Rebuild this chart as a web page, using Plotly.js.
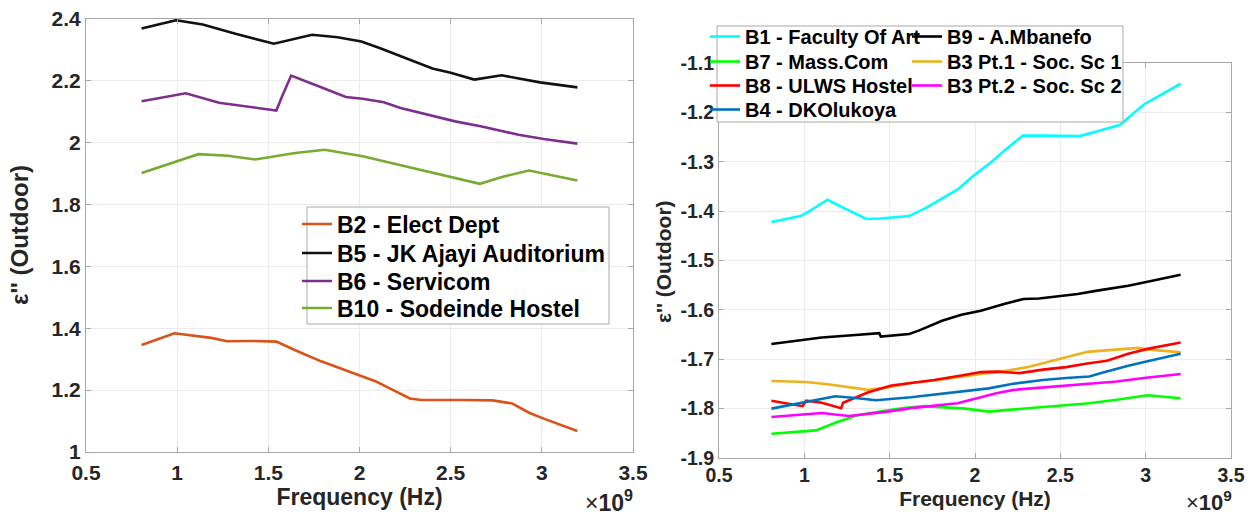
<!DOCTYPE html>
<html>
<head>
<meta charset="utf-8">
<script src="https://cdn.plot.ly/plotly-3.0.1.min.js"></script>
<style>
html,body{margin:0;padding:0;background:#fff;}
#chart{width:1248px;height:515px;}
</style>
</head>
<body>
<div id="chart"></div>
<script>
// ---- Left panel data (frequency in units of 1e9 Hz) ----
const b2Freq  = [0.805,0.985,1.186,1.274,1.417,1.544,1.648,1.786,1.994,2.087,2.276,2.34,2.57,2.73,2.837,2.93,3.01,3.195];
const b2Eps   = [1.346,1.384,1.369,1.358,1.359,1.357,1.329,1.294,1.249,1.229,1.173,1.168,1.168,1.167,1.157,1.127,1.108,1.068];
const b5Freq  = [0.805,0.994,1.14,1.32,1.53,1.74,1.88,2.01,2.11,2.25,2.40,2.50,2.63,2.78,2.99,3.195];
const b5Eps   = [2.369,2.396,2.382,2.352,2.320,2.349,2.341,2.327,2.306,2.274,2.240,2.226,2.204,2.218,2.195,2.179];
const b6Freq  = [0.805,1.047,1.23,1.37,1.544,1.574,1.625,1.786,1.925,2.017,2.133,2.225,2.364,2.525,2.664,2.872,3.01,3.195];
const b6Eps   = [2.134,2.160,2.129,2.118,2.104,2.148,2.217,2.180,2.148,2.142,2.131,2.112,2.091,2.069,2.053,2.026,2.012,1.997];
const b10Freq = [0.805,1.117,1.278,1.428,1.648,1.809,2.017,2.25,2.41,2.525,2.66,2.80,2.93,3.195];
const b10Eps  = [1.902,1.963,1.958,1.946,1.967,1.977,1.956,1.924,1.902,1.884,1.867,1.892,1.910,1.878];

// ---- Right panel data ----
const b1Freq  = [0.807,0.977,1.011,1.136,1.239,1.364,1.443,1.614,1.716,1.83,1.898,1.989,2.091,2.17,2.28,2.398,2.614,2.716,2.852,2.898,2.989,3.091,3.205];
const b1Eps   = [-1.422,-1.410,-1.404,-1.377,-1.395,-1.416,-1.415,-1.410,-1.393,-1.369,-1.356,-1.329,-1.302,-1.278,-1.247,-1.247,-1.248,-1.238,-1.225,-1.211,-1.184,-1.164,-1.142];
const b9Freq  = [0.807,1.0,1.102,1.261,1.439,1.448,1.614,1.67,1.807,1.92,2.034,2.17,2.284,2.375,2.489,2.602,2.716,2.898,3.011,3.205];
const b9Eps   = [-1.669,-1.660,-1.656,-1.652,-1.647,-1.654,-1.649,-1.642,-1.622,-1.610,-1.602,-1.588,-1.578,-1.577,-1.573,-1.568,-1.561,-1.551,-1.543,-1.529];
const b7Freq  = [0.807,0.966,1.068,1.193,1.307,1.443,1.58,1.705,1.83,1.943,2.08,2.216,2.398,2.534,2.67,2.83,3.011,3.205];
const b7Eps   = [-1.851,-1.846,-1.844,-1.827,-1.814,-1.806,-1.799,-1.795,-1.797,-1.800,-1.806,-1.802,-1.797,-1.794,-1.789,-1.782,-1.773,-1.779];
const b3aFreq = [0.807,1.011,1.148,1.261,1.375,1.489,1.625,1.761,1.92,2.034,2.17,2.307,2.42,2.534,2.659,2.807,2.955,3.011,3.205];
const b3aEps  = [-1.744,-1.746,-1.751,-1.757,-1.762,-1.757,-1.748,-1.743,-1.735,-1.730,-1.724,-1.716,-1.706,-1.696,-1.685,-1.681,-1.677,-1.680,-1.686];
const b8Freq  = [0.807,0.989,1.011,1.102,1.216,1.227,1.375,1.511,1.625,1.761,1.92,2.034,2.125,2.261,2.398,2.534,2.648,2.773,2.898,3.011,3.205];
const b8Eps   = [-1.784,-1.795,-1.784,-1.788,-1.799,-1.788,-1.767,-1.753,-1.748,-1.742,-1.733,-1.726,-1.725,-1.728,-1.721,-1.716,-1.709,-1.703,-1.689,-1.679,-1.666];
const b3bFreq = [0.807,0.966,1.102,1.261,1.352,1.489,1.625,1.761,1.898,2.034,2.125,2.227,2.398,2.534,2.67,2.83,2.989,3.205];
const b3bEps  = [-1.817,-1.812,-1.809,-1.815,-1.812,-1.806,-1.799,-1.794,-1.789,-1.777,-1.769,-1.762,-1.757,-1.753,-1.750,-1.745,-1.738,-1.730];
const b4Freq  = [0.807,1.011,1.182,1.284,1.42,1.625,1.761,1.92,2.08,2.216,2.398,2.534,2.67,2.761,2.898,3.011,3.205];
const b4Eps   = [-1.800,-1.787,-1.775,-1.778,-1.783,-1.777,-1.772,-1.765,-1.759,-1.750,-1.742,-1.738,-1.735,-1.726,-1.713,-1.704,-1.689];

// ---- Tick labels ----
const xTickVals  = [0.5,1,1.5,2,2.5,3,3.5];
const xTickText  = ['0.5','1','1.5','2','2.5','3','3.5'];
const yLTickVals = [1,1.2,1.4,1.6,1.8,2,2.2,2.4];
const yLTickText = ['1','1.2','1.4','1.6','1.8','2','2.2','2.4'];
const yRTickVals = [-1.9,-1.8,-1.7,-1.6,-1.5,-1.4,-1.3,-1.2,-1.1];
const yRTickText = ['-1.9','-1.8','-1.7','-1.6','-1.5','-1.4','-1.3','-1.2','-1.1'];

const W = 1248, H = 515;
const px = v => v / W;
const py = v => 1 - v / H;

const FONT = 'Liberation Sans, Arial, Helvetica, sans-serif';
const TXT = '#262626';
const LW = 2.6;

function tr(x, y, name, color, xa, ya, leg) {
  return {x: x, y: y, name: name, type: 'scatter', mode: 'lines',
          line: {color: color, width: LW}, xaxis: xa, yaxis: ya, legend: leg};
}

const data = [
  tr(b2Freq,  b2Eps,  'B2 - Elect Dept',           '#D95319', 'x', 'y', 'legend'),
  tr(b5Freq,  b5Eps,  'B5 - JK Ajayi Auditorium',  '#111111', 'x', 'y', 'legend9'),
  tr(b6Freq,  b6Eps,  'B6 - Servicom',             '#7E2F8E', 'x', 'y', 'legend10'),
  tr(b10Freq, b10Eps, 'B10 - Sodeinde Hostel',     '#77AC30', 'x', 'y', 'legend11'),
  tr(b1Freq,  b1Eps,  'B1 - Faculty Of Art',       '#00FFFF', 'x2', 'y2', 'legend2'),
  tr(b9Freq,  b9Eps,  'B9 - A.Mbanefo',            '#000000', 'x2', 'y2', 'legend3'),
  tr(b7Freq,  b7Eps,  'B7 - Mass.Com',             '#00FF00', 'x2', 'y2', 'legend4'),
  tr(b3aFreq, b3aEps, 'B3 Pt.1 - Soc. Sc 1',       '#EDB120', 'x2', 'y2', 'legend5'),
  tr(b8Freq,  b8Eps,  'B8 - ULWS Hostel',          '#FF0000', 'x2', 'y2', 'legend6'),
  tr(b3bFreq, b3bEps, 'B3 Pt.2 - Soc. Sc 2',       '#FF00FF', 'x2', 'y2', 'legend7'),
  tr(b4Freq,  b4Eps,  'B4 - DKOlukoya',            '#0072BD', 'x2', 'y2', 'legend8')
];

function ax(size) {
  return {
    showgrid: true, gridcolor: '#ebebeb', gridwidth: 1,
    showline: true, linecolor: '#a8a8a8', linewidth: 1, mirror: 'ticks',
    ticks: 'inside', ticklen: 5, tickcolor: '#a8a8a8',
    zeroline: false, fixedrange: true, tickmode: 'array',
    tickfont: {family: FONT, size: size, color: TXT, weight: 'bold'}
  };
}

function ttl(text, size, standoff) {
  return {text: text, font: {family: FONT, size: size, color: TXT, weight: 'bold'}, standoff: standoff};
}

function legendAt(xp, yp, size) {
  return {
    x: px(xp), y: py(yp), xanchor: 'left', yanchor: 'top',
    xref: 'paper', yref: 'paper',
    bgcolor: 'rgba(0,0,0,0)', borderwidth: 0,
    font: {family: FONT, size: size, color: '#000', weight: 'bold'},
    itemwidth: 30, tracegroupgap: 0
  };
}

function yTitleAnn(text, xp, yp, size) {
  return {xref: 'paper', yref: 'paper', x: px(xp), y: py(yp), xanchor: 'center', yanchor: 'middle',
          text: text, textangle: -90, showarrow: false,
          font: {family: FONT, size: size, color: TXT, weight: 'bold'}};
}

const layout = {
  width: W, height: H,
  margin: {l: 0, r: 0, t: 0, b: 0, autoexpand: false},
  paper_bgcolor: '#fff', plot_bgcolor: '#fff',
  showlegend: true,
  xaxis: Object.assign(ax(21), {domain: [px(86), px(633)], range: [0.5, 3.5], tickvals: xTickVals, ticktext: xTickText, anchor: 'y', ticklabelstandoff: 2, title: ttl('Frequency (Hz)', 23, 5)}),
  yaxis: Object.assign(ax(21), {domain: [py(452), py(19)], range: [1, 2.4], tickvals: yLTickVals, ticktext: yLTickText, anchor: 'x'}),
  xaxis2: Object.assign(ax(19.5), {domain: [px(719), px(1231)], range: [0.5, 3.5], tickvals: xTickVals, ticktext: xTickText, anchor: 'y2', title: ttl('Frequency (Hz)', 21, 5)}),
  yaxis2: Object.assign(ax(19.5), {domain: [py(458), py(63)], range: [-1.9, -1.1], tickvals: yRTickVals, ticktext: yRTickText, anchor: 'x2'}),
  legend:   legendAt(297, 202.5, 23),
  legend9:  legendAt(297, 231.5, 23),
  legend10: legendAt(297, 259.5, 23),
  legend11: legendAt(297, 286.5, 23),
  legend2: legendAt(705, 17, 20),
  legend3: legendAt(907, 17, 20),
  legend4: legendAt(705, 42, 20),
  legend5: legendAt(907, 42, 20),
  legend6: legendAt(705, 66, 20),
  legend7: legendAt(907, 66, 20),
  legend8: legendAt(705, 90, 20),
  shapes: [
    {type: 'rect', xref: 'paper', yref: 'paper', x0: px(307), x1: px(609), y0: py(324), y1: py(207),
     line: {color: '#a8a8a8', width: 1}, fillcolor: '#fff', layer: 'above'},
    {type: 'rect', xref: 'paper', yref: 'paper', x0: px(717), x1: px(1123), y0: py(122), y1: py(26),
     line: {color: '#a8a8a8', width: 1}, fillcolor: '#fff', layer: 'above'}
  ],
  annotations: [
    yTitleAnn("ε'' (Outdoor)", 19, 235, 24),
    yTitleAnn("ε'' (Outdoor)", 663, 262, 21),
    {xref: 'paper', yref: 'paper', x: px(635), y: py(501), xanchor: 'right', yanchor: 'middle',
     text: '×<b>10<sup>9</sup></b>', showarrow: false, font: {family: FONT, size: 23, color: TXT}},
    {xref: 'paper', yref: 'paper', x: px(1234), y: py(501), xanchor: 'right', yanchor: 'middle',
     text: '×<b>10<sup>9</sup></b>', showarrow: false, font: {family: FONT, size: 22, color: TXT}}
  ]
};

Plotly.newPlot('chart', data, layout, {staticPlot: true, displayModeBar: false});
</script>
</body>
</html>
